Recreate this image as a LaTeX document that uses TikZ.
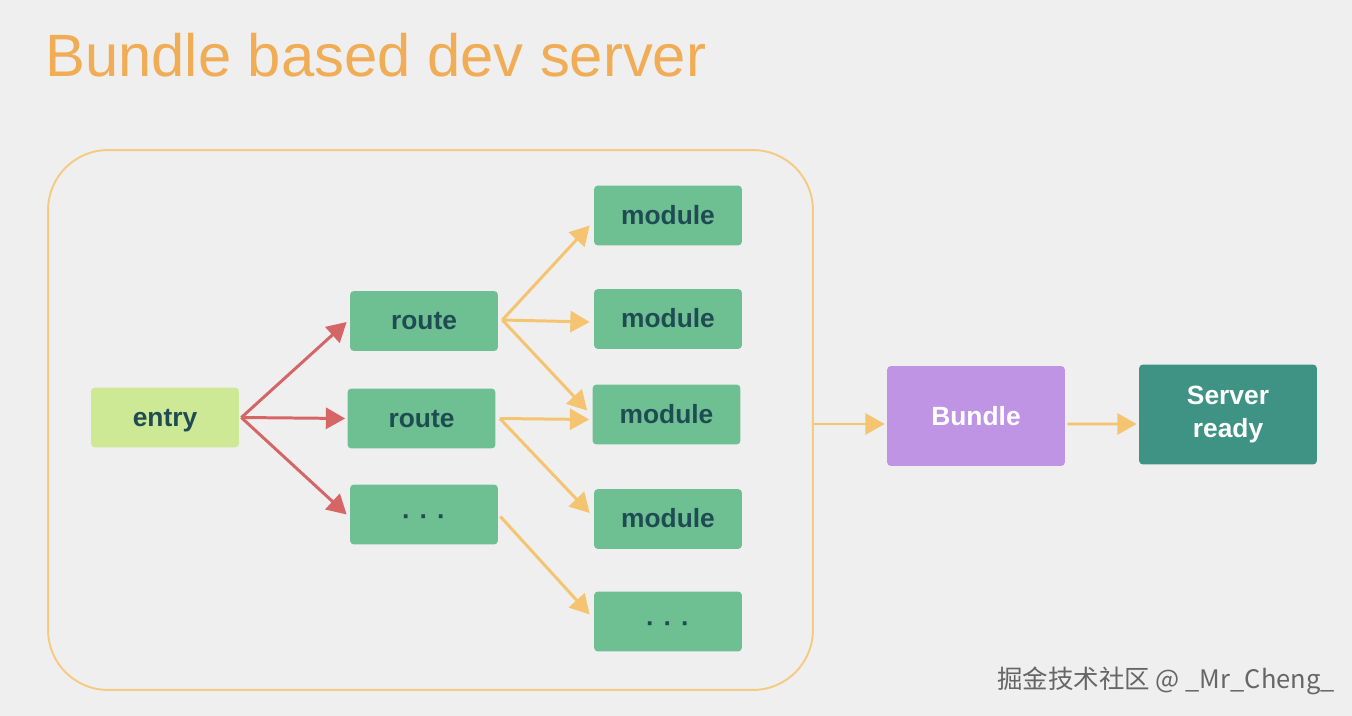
\documentclass[tikz,border=0pt]{standalone}
\usepackage{fontspec}
\setmainfont{Liberation Sans}
\newfontfamily\cjkfont{Noto Sans CJK SC}
\usepackage{xcolor}
\usepackage{tikz}
\usetikzlibrary{
  arrows.meta,
  positioning,
  calc
}

\definecolor{bgGray}{HTML}{EFEFEF}
\definecolor{titleOrange}{HTML}{F0AD55}
\definecolor{frameOrange}{HTML}{F5CB82}
\definecolor{entryGreen}{HTML}{CDE995}
\definecolor{moduleGreen}{HTML}{6EBF92}
\definecolor{textTeal}{HTML}{1E4C52}
\definecolor{bundlePurple}{HTML}{BF94E4}
\definecolor{serverTeal}{HTML}{3F9384}
\definecolor{arrowRed}{HTML}{D66666}
\definecolor{arrowOrange}{HTML}{F5C470}

\begin{document}
\begin{tikzpicture}[x=0.02cm,y=-0.02cm,
  box/.style={rounded corners=0.08cm, minimum width=2.96cm, minimum height=1.2cm,
    inner sep=0pt, text height=12pt, text depth=2pt, text=textTeal,
    font=\fontsize{15}{18}\selectfont\bfseries},
  bigbox/.style={rounded corners=0.08cm, minimum width=3.56cm, minimum height=2cm,
    inner sep=0pt, text=white, align=center, font=\fontsize{15}{19}\selectfont\bfseries},
  redarrow/.style={arrowRed, line width=1.7pt, -{Triangle[length=11pt,width=12pt]}},
  orangearrow/.style={arrowOrange, line width=1.7pt, -{Triangle[length=11pt,width=12pt]}}
]
  % background
  \fill[bgGray] (0,0) rectangle (1352,716);
  \useasboundingbox (0,0) rectangle (1352,716);

  % title
  \node[anchor=base west, inner sep=0pt, text=titleOrange,
    font=\fontsize{34}{40}\selectfont] (title) at (45,77) {Bundle based dev server};

  % group frame
  \node[draw=frameOrange, line width=1.1pt, rounded corners=1.2cm,
    minimum width=15.3cm, minimum height=10.8cm] (group) at (430.5,420) {};

  % entry and routes
  \node[box, fill=entryGreen] (entry) at (165,417.5) {entry};
  \node[box, fill=moduleGreen] (route1) at (424,321) {route};
  \node[box, fill=moduleGreen] (route2) at (421.5,418.5) {route};
  \node[box, fill=moduleGreen] (dots1) at (424,514.5) {\raisebox{-1pt}{·\,\,·\,\,·}};

  % modules
  \foreach \name/\x/\y in {mod1/668/215.5, mod2/668/319, mod3/666.5/414.5, mod4/668/519}{
    \node[box, fill=moduleGreen] (\name) at (\x,\y) {module};
  }
  \node[box, fill=moduleGreen] (mod5) at (668,621.5) {\raisebox{-1pt}{·\,\,·\,\,·}};

  % bundle and server
  \node[bigbox, fill=bundlePurple] (bundle) at (976,416) {Bundle};
  \node[bigbox, fill=serverTeal] (server) at (1228,414.5) {Server\\ready};

  % entry -> routes
  \draw[redarrow] ([xshift=0.04cm]entry.east) -- ($(route1.west)+(-3,1)$);
  \draw[redarrow] ([xshift=0.04cm]entry.east) -- ($(route2.west)+(-2,0)$);
  \draw[redarrow] ([xshift=0.04cm]entry.east) -- ($(dots1.west)+(-3,0)$);

  % routes -> modules
  \draw[orangearrow] ($(route1.east)+(4,-1)$) -- ($(mod1.west)+(-4,10)$);
  \draw[orangearrow] ($(route1.east)+(4,-1)$) -- ($(mod2.west)+(-4,3)$);
  \draw[orangearrow] ($(route1.east)+(4,-1)$) -- ($(mod3.west)+(-5,-4)$);
  \draw[orangearrow] ($(route2.east)+(4,0)$) -- ($(mod3.west)+(-3,5)$);
  \draw[orangearrow] ($(route2.east)+(4,0)$) -- ($(mod4.west)+(-4,-6)$);
  \draw[orangearrow] ($(dots1.east)+(2,2)$) -- ($(mod5.west)+(-4,-7)$);

  % group -> bundle -> server
  \draw[orangearrow] ($(group.east)+(0,4)$) -- ($(bundle.west)+(-2,8)$);
  \draw[orangearrow] ($(bundle.east)+(2,8)$) -- ($(server.west)+(-2,9.5)$);

  % watermark
  \node[anchor=base west, inner sep=0pt, text=black!60,
    font=\cjkfont\fontsize{14.5}{16}\selectfont] (mark) at (997,688) {掘金技术社区 @ \_Mr\_Cheng\_};
\end{tikzpicture}
\end{document}
